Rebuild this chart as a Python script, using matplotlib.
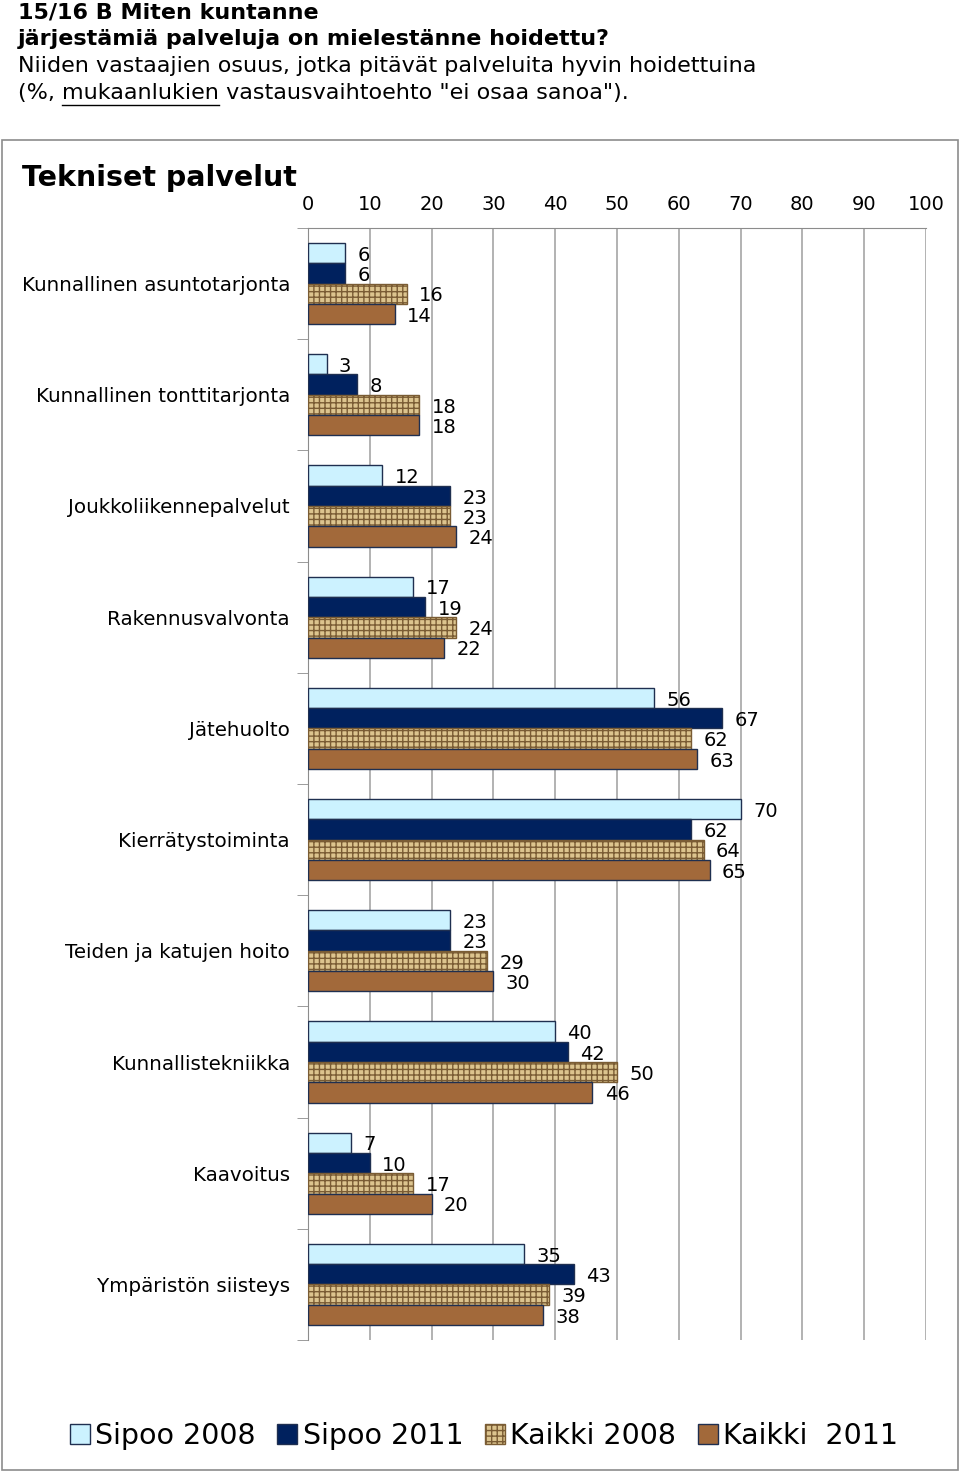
import numpy as np
import matplotlib.pyplot as plt
from matplotlib.patches import Rectangle, Patch


# Data
categories = ['Kunnallinen asuntotarjonta', 'Kunnallinen tonttitarjonta',
              'Joukkoliikennepalvelut', 'Rakennusvalvonta', 'Jätehuolto',
              'Kierrätystoiminta', 'Teiden ja katujen hoito', 'Kunnallistekniikka',
              'Kaavoitus', 'Ympäristön siisteys']
sipoo_2008 = [6, 3, 12, 17, 56, 70, 23, 40, 7, 35]
sipoo_2011 = [6, 8, 23, 19, 67, 62, 23, 42, 10, 43]
kaikki_2008 = [16, 18, 23, 24, 62, 64, 29, 50, 17, 39]
kaikki_2011 = [14, 18, 24, 22, 63, 65, 30, 46, 20, 38]
series_names = ['Sipoo 2008', 'Sipoo 2011', 'Kaikki 2008', 'Kaikki  2011']
x_ticks = list(range(0, 101, 10))

plt.rcParams['font.family'] = 'DejaVu Sans'

fig = plt.figure(figsize=(9.6, 14.73), dpi=100)
W, H = 960, 1473

# outer frame of the chart area
fig.patches.append(Rectangle((2 / W, 3 / H), 956 / W, (1470 - 140) / H,
                             transform=fig.transFigure, fill=False,
                             edgecolor='#8c8c8c', linewidth=1.2))

# header text
hsize = 16
fig.text(18 / W, 1 - 12 / H, '15/16 B Miten kuntanne', fontsize=hsize,
         fontweight='bold', va='center', ha='left')
fig.text(18 / W, 1 - 39 / H, 'järjestämiä palveluja on mielestänne hoidettu?',
         fontsize=hsize, fontweight='bold', va='center', ha='left')
fig.text(18 / W, 1 - 66 / H,
         'Niiden vastaajien osuus, jotka pitävät palveluita hyvin hoidettuina',
         fontsize=hsize, va='center', ha='left')

# last line with underlined word
renderer = fig.canvas.get_renderer()
parts = ['(%, ', 'mukaanlukien', ' vastausvaihtoehto "ei osaa sanoa").']
xpos = 18
for k, part in enumerate(parts):
    t = fig.text(xpos / W, 1 - 93 / H, part, fontsize=hsize, va='center', ha='left')
    bb = t.get_window_extent(renderer=renderer)
    if k == 1:
        fig.add_artist(plt.Line2D([bb.x0 / W, bb.x1 / W], [(H - 105) / H, (H - 105) / H],
                                  transform=fig.transFigure, color='black', linewidth=1))
    xpos = bb.x1

fig.text(22 / W, 1 - 178 / H, 'Tekniset palvelut', fontsize=20.5,
         fontweight='bold', va='center', ha='left')

ax = fig.add_axes([308 / W, 1 - 1340 / H, (926 - 308) / W, (1340 - 228) / H])

n = len(categories)
y = np.arange(n)
h = 0.183
offsets = [-1.5 * h, -0.5 * h, 0.5 * h, 1.5 * h]
edge = '#1f2f50'

ax.barh(y + offsets[0], sipoo_2008, height=h, color='#ccf2ff', edgecolor=edge, linewidth=1, zorder=3)
ax.barh(y + offsets[1], sipoo_2011, height=h, color='#00215e', edgecolor=edge, linewidth=1, zorder=3)
ax.barh(y + offsets[2], kaikki_2008, height=h, color='#dcc48e', edgecolor='#7a5c34',
        hatch='+++', linewidth=1, zorder=3)
ax.barh(y + offsets[3], kaikki_2011, height=h, color='#a2693a', edgecolor=edge, linewidth=1, zorder=3)

for vals, off in zip([sipoo_2008, sipoo_2011, kaikki_2008, kaikki_2011], offsets):
    for i, v in enumerate(vals):
        ax.text(v + 2.0, i + off + 0.02, str(v), fontsize=14, va='center', ha='left')

ax.set_xlim(0, 100)
ax.set_ylim(n - 0.5, -0.5)
ax.set_xticks(x_ticks)
ax.xaxis.tick_top()
ax.tick_params(axis='x', length=0, pad=10, labelsize=14)
ax.set_yticks(y)
ax.set_yticklabels(categories, fontsize=14.3)
ax.tick_params(axis='y', which='major', length=0, pad=13)
ax.set_yticks(np.arange(n + 1) - 0.5, minor=True)
ax.tick_params(axis='y', which='minor', length=8, color='#8c8c8c')
ax.grid(axis='x', color='#a6a6a6', linewidth=1.2, zorder=0)
for s in ['right', 'bottom']:
    ax.spines[s].set_visible(False)
ax.spines['left'].set_color('#8c8c8c')
ax.spines['top'].set_color('#8c8c8c')

handles = [Patch(facecolor='#ccf2ff', edgecolor=edge),
           Patch(facecolor='#00215e', edgecolor=edge),
           Patch(facecolor='#dcc48e', edgecolor='#7a5c34', hatch='+++'),
           Patch(facecolor='#a2693a', edgecolor=edge)]
fig.legend(handles, series_names, loc='center', bbox_to_anchor=(484 / W, 1 - 1436 / H),
           ncol=4, frameon=False, fontsize=20.5, handlelength=0.7, handleheight=0.7,
           handletextpad=0.2, columnspacing=0.75)

fig.savefig('out.png', dpi=100)
